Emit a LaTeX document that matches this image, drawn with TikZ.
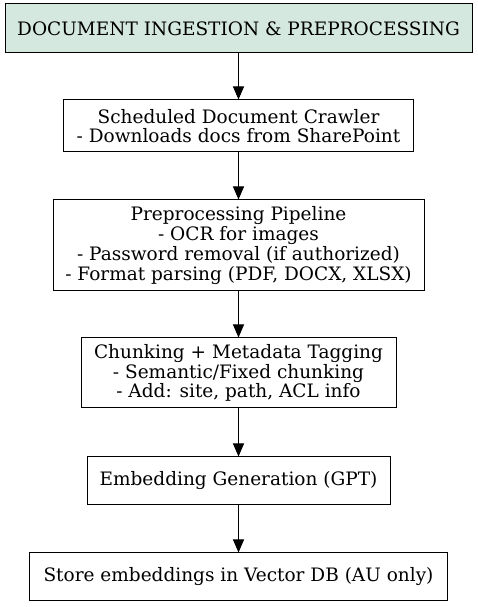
\documentclass[tikz,border=0pt]{standalone}
\usepackage{fontspec}
\setmainfont{DejaVu Serif}
\usetikzlibrary{arrows.meta}
\definecolor{headfill}{HTML}{D5E8E0}
\tikzset{
  box/.style={draw, line width=1pt, inner sep=0pt, align=center, font=\fontsize{18.5}{19.7}\selectfont},
  conn/.style={line width=0.9pt, -{Triangle[length=13pt,width=11pt]}}
}
\begin{document}
\begin{tikzpicture}[x=1pt,y=1pt]
\useasboundingbox (0,0) rectangle (477,607);
\node[box, fill=headfill, minimum width=467pt, minimum height=49pt] (b1) at (238.5,578.5) {DOCUMENT INGESTION \& PREPROCESSING};
\node[box, minimum width=350pt, minimum height=52pt] (b2) at (238.5,481) {Scheduled Document Crawler\\- Downloads docs from SharePoint};
\node[box, minimum width=371pt, minimum height=91pt] (b3) at (238.5,361.5) {Preprocessing Pipeline\\- OCR for images\\- Password removal (if authorized)\\- Format parsing (PDF, DOCX, XLSX)};
\node[box, minimum width=315pt, minimum height=70pt] (b4) at (238.5,234) {Chunking + Metadata Tagging\\- Semantic/Fixed chunking\\- Add: site, path, ACL info};
\node[box, minimum width=303pt, minimum height=48pt] (b5) at (238.5,126) {Embedding Generation (GPT)};
\node[box, minimum width=418pt, minimum height=48pt] (b6) at (238.5,30) {Store embeddings in Vector DB (AU only)};
\draw[conn] (b1) -- (b2);
\draw[conn] (b2) -- (b3);
\draw[conn] (b3) -- (b4);
\draw[conn] (b4) -- (b5);
\draw[conn] (b5) -- (b6);
\end{tikzpicture}
\end{document}
